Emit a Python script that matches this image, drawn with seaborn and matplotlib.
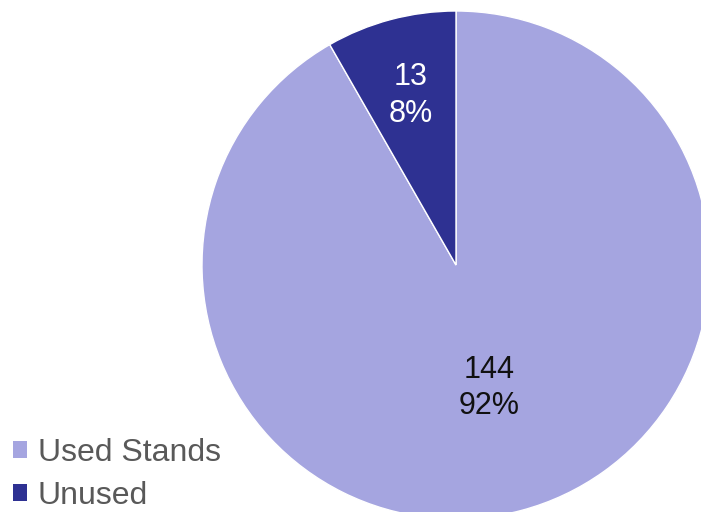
import matplotlib
matplotlib.use('Agg')
import matplotlib.pyplot as plt
import matplotlib.patches as mpatches
import numpy as np
import seaborn as sns

# data
labels = ['Used Stands', 'Unused']
counts = [144, 13]
colors = ['#a5a5e0', '#2e3192']
text_colors = ['#111111', '#ffffff']
label_dist = [0.50, 0.69]

sns.set_theme(style='white')
plt.rcParams['font.family'] = ['Liberation Sans', 'DejaVu Sans']

fig = plt.figure(figsize=(7.01, 5.12), dpi=100, facecolor='white')
# square axes so the pie is round; it gets clipped by the figure edges
ax = fig.add_axes([(456 - 254) / 701, (512 - 265 - 254) / 512, 508 / 701, 508 / 512])

wedges, _ = ax.pie(counts, colors=colors, startangle=90, counterclock=False,
                   radius=1, wedgeprops=dict(edgecolor='white', linewidth=1))
ax.set_xlim(-1, 1)
ax.set_ylim(-1, 1)
ax.set_aspect('equal')
ax.axis('off')

total = sum(counts)
for w, n, c, d in zip(wedges, counts, text_colors, label_dist):
    mid = np.deg2rad((w.theta1 + w.theta2) / 2)
    ax.text(d * np.cos(mid), d * np.sin(mid), f'{n}\n{round(100 * n / total)}%',
            ha='center', va='center', color=c, fontsize=22, linespacing=1.28)

handles = [mpatches.Patch(facecolor=col, edgecolor='none') for col in colors]
leg = fig.legend(handles, labels, loc='lower left', bbox_to_anchor=(0.018, 0.002),
                 frameon=False, fontsize=23, handlelength=0.44, handleheight=0.44,
                 handletextpad=0.35, labelspacing=0.4, borderaxespad=0, borderpad=0)
for t in leg.get_texts():
    t.set_color('#595959')

plt.savefig('out.png', dpi=100, facecolor='white')
